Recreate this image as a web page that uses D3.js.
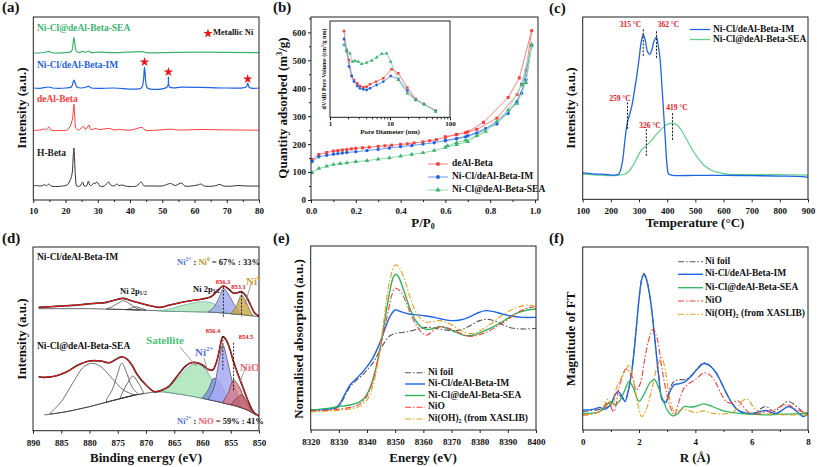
<!DOCTYPE html>
<html><head><meta charset="utf-8">
<script src="https://cdn.jsdelivr.net/npm/d3@7"></script>
<style>
body{margin:0;background:#fff;}
svg text{font-family:"Liberation Serif","Times New Roman",serif;font-weight:bold;}
</style></head><body>
<svg id="chart" width="817" height="467"></svg>
<script>
// ---------------- DATA ----------------
// (a) XRD, 2theta vs stacked intensity (a.u.)
const xrdLabels = ["Ni-Cl@deAl-Beta-SEA","Ni-Cl/deAl-Beta-IM","deAl-Beta","H-Beta"];
const xrdH = [[10,14],[11,14.5],[12,14],[13,14.5],[13.5,15.5],[14,14],[14.8,16],[15.5,14],[17,13.5],[19,14],[20.5,15],[21.3,19],[21.7,22],[22.1,28],[22.4,45],[22.6,52],[22.8,42],[23.1,22],[23.5,14],[24.5,14],[25.3,18],[25.8,14],[26.5,14],[27.1,19],[27.5,15],[28,14.5],[28.7,17],[29.2,16],[29.6,18],[30.1,17],[30.6,14],[32,14],[33.4,18],[34,15],[35,14],[36,16],[36.5,14.5],[37.6,15],[38.5,14],[40,13.5],[42,14],[43.5,18],[44.2,14.5],[46,14],[48,14],[50,14],[52.6,16.5],[54,14.5],[56,17],[57,14],[59,14],[61,15],[62,16],[63,14],[66,14],[68,15.5],[69,14],[72,14],[73.5,14.5],[76,14],[80,14]];
const xrdDeAl = [[10,69.5],[12,70],[13.5,71],[14,70],[14.8,73],[15.5,70],[18,69.5],[20.5,70],[21.3,73],[21.8,77],[22.2,82],[22.6,96],[22.9,82],[23.2,72],[24,70],[25.6,73.5],[26.2,70.5],[27.3,75],[27.8,70.5],[29.5,71.5],[30.2,70.5],[33.7,71.5],[35,70],[36.5,70.5],[40,69.8],[43.9,72.5],[44.6,70],[48,69.8],[52.8,70.8],[55,70],[62,70.5],[68,70.2],[80,69.8]];
const xrdIM = [[10,112],[12,111.7],[14.8,113],[16,112],[20,112],[21.8,113],[22.3,117],[22.6,120],[23,117],[23.5,113],[25,112],[27.3,113.5],[28,112],[35,112],[43.5,112],[44.1,118],[44.5,133],[44.9,118],[45.4,112],[51.5,113],[51.9,123],[52.3,113],[56,112.8],[62,112.6],[70,112],[76,113],[76.5,117],[77,112.5],[80,112]];
const xrdSEA = [[10,147],[13.5,147.5],[14.8,148.7],[15.5,147.5],[20,147.3],[21.8,148.5],[22.3,155],[22.6,162.7],[22.9,156],[23.3,149],[24,147.5],[25.6,148.6],[26,147.6],[27.3,149],[27.8,147.5],[30,147.8],[35,147.3],[44,148.3],[45,147.3],[53,147.6],[62,147.9],[80,147.3]];
const niStars = [[44.5,138],[51.9,128],[76.5,121]];

// (b) N2 isotherms, P/P0 vs quantity adsorbed (m3/g): adsorption then desorption
const isoDeAl = [[0.005,145],[0.035,163],[0.07,170],[0.1,175],[0.12,177],[0.14,179],[0.16,181],[0.18,183],[0.2,185],[0.23,187],[0.26,189],[0.3,192],[0.33,194],[0.36,196],[0.4,199],[0.43,201],[0.46,204],[0.5,208],[0.53,212],[0.56,216],[0.6,225],[0.65,234],[0.7,244],[0.77,278],[0.88,367],[0.93,437],[0.985,606],[0.96,465],[0.94,414],[0.92,377],[0.83,293],[0.74,253],[0.69,241],[0.65,235],[0.6,226]];
const isoIM = [[0.005,138],[0.035,155],[0.07,160],[0.1,164],[0.12,166],[0.14,168],[0.16,170],[0.2,173],[0.25,177],[0.3,181],[0.35,186],[0.4,191],[0.45,195],[0.5,200],[0.55,205],[0.6,213],[0.65,220],[0.7,230],[0.78,256],[0.88,310],[0.94,382],[0.985,552],[0.96,430],[0.92,352],[0.83,272],[0.74,239],[0.69,226],[0.65,219],[0.6,212]];
const isoSEA = [[0.005,98],[0.035,113],[0.07,121],[0.1,127],[0.13,130],[0.16,133],[0.2,137],[0.25,141],[0.3,146],[0.35,151],[0.4,157],[0.45,163],[0.5,169],[0.55,177],[0.6,188],[0.65,198],[0.7,209],[0.78,245],[0.88,322],[0.94,412],[0.985,557],[0.96,420],[0.92,346],[0.83,280],[0.74,230],[0.69,214],[0.65,205],[0.61,194]];
const isoLabels = ["deAl-Beta","Ni-Cl/deAl-Beta-IM","Ni-Cl@deAl-Beta-SEA"];
// (b) inset pore size distribution, pore diameter (nm) vs dV/dD (a.u.)
const psdDeAl = [[1.71,86.3],[1.9,65.7],[2.07,57.3],[2.3,41.3],[2.51,37.3],[2.85,34],[3.16,31.3],[3.59,30],[4.08,30.5],[4.64,33],[5.84,35.7],[7.74,39],[10.64,48],[13.77,44],[19.45,29.7],[26.77,18.3],[36.87,13.3],[57.7,6.7]];
const psdIM = [[1.71,78.3],[1.9,67.3],[2.07,50.7],[2.3,41.3],[2.51,35.7],[2.85,31.3],[3.16,29],[3.59,28],[4.08,27.3],[4.64,29],[5.99,32.3],[7.74,35.7],[10.26,41.3],[13.77,38.3],[19.45,26.7],[26.77,17.3],[36.87,13],[57.7,6.3]];
const psdSEA = [[1.71,72.3],[1.9,66.7],[2.15,64],[2.36,55.7],[2.61,56.3],[2.96,55.7],[3.37,53.3],[4.08,54.7],[4.95,56.7],[5.99,60],[7.27,63.3],[8.8,64],[10.26,55.7],[13.77,37.3],[19.45,24],[26.77,17.3],[36.87,13.3],[57.7,5.7]];

// (c) H2-TPR, temperature (C) vs intensity (a.u.)
const tprIM = [[100,26.7],[120,26],[150,25.3],[180,25],[200,24.3],[215,24.3],[228,25.3],[240,36],[250,59.3],[258,76],[266,84.3],[274,92.7],[288,116],[299,137.7],[308,157.7],[315,165],[322,159.3],[330,147.7],[338,145],[346,150],[353,158],[362,162],[368,154.3],[375,139.3],[383,106],[392,66],[400,32.7],[405,25.3],[420,24],[500,24],[600,24],[700,23.7],[800,23.3],[880,22.7],[900,22]];
const tprSEA = [[100,25.3],[150,24.3],[200,23.7],[230,24.3],[250,25.3],[265,28.3],[280,34.3],[295,42.7],[310,50],[326,53.7],[345,59.3],[365,66],[385,71.7],[400,75],[419,76],[435,74.3],[450,69.3],[470,59.3],[490,49.3],[510,41],[530,34.3],[555,29.3],[580,27],[610,25.3],[700,24.7],[800,24.7],[900,24.3]];
const tprPeaks = [{t:315,top:170,bot:142},{t:362,top:168,bot:140},{t:259,top:97,bot:70},{t:419,top:86,bot:58},{t:326,top:70,bot:42}];
const tprPeakLabels = ["315 °C","362 °C","259 °C","419 °C","326 °C"];

// (d) XPS Ni 2p, binding energy (eV) vs intensity (a.u.)
const xpsIMfit = [[889,368],[887,370],[885,372],[883,374],[881,377],[879,380],[877,383],[875.5,390],[874,395],[873,390],[872,385],[870.5,378],[869,372],[867.5,368],[866,374],[864,382],[862,388],[860,393],[858.5,400],[857.5,415],[856.3,432],[855.2,420],[854.5,410],[853.8,412],[853.1,415],[852.3,402],[851.5,375],[850.8,352],[850,342]];
const xpsIMbg = [[889,364],[880,364],[875,362],[871,360],[868,358],[866,356],[862,355],[859,354],[857,352],[855,349],[853,346],[851,342],[850,340]];
const xpsIMc1 = [[877,363],[876,370],[875,380],[874,388],[873,380],[872,368],[871,361]];
const xpsIMc2 = [[873.5,361],[872.5,366],[871.8,370],[871,366],[870,360]];
const xpsIMsat = [[868,358],[866,362],[864,372],[862,380],[860,385],[858.5,382],[857,370],[855.5,355],[854.5,349]];
const xpsIMni2 = [[859,354],[858,368],[857,400],[856.3,425],[855.5,410],[854.5,380],[853.5,355],[853,347]];
const xpsIMni0 = [[855,349],[854,372],[853.1,405],[852.3,385],[851.5,355],[851,343]];
const xpsSEAfit = [[889,160],[888,158],[886,162],[884,175],[882,195],[880,207],[878,207],[876.5,202],[875.5,210],[874.3,220],[873.3,212],[872.5,195],[871.5,165],[870,135],[868.5,115],[867.5,118],[866,130],[865,150],[864,172],[863,192],[862,202],[861,202],[860,195],[859,182],[858.2,180],[857.5,205],[857,240],[856.4,280],[855.8,270],[855.2,245],[854.6,210],[854,180],[853,135],[852,90],[851,55],[850,42]];
const xpsSEAbg = [[888,45],[884,55],[880,70],[876,88],[872,105],[869,113],[867,115],[865,110],[862,102],[860,95],[858,88],[856,80],[854,72],[852,60],[850.5,44]];
const xpsSEAc0 = [[887,50],[885,85],[883,140],[881,190],[879.5,200],[878,190],[876,155],[874,120],[872,105]];
const xpsSEAc1 = [[877,92],[876,120],[875,170],[874.3,200],[873.5,175],[872.5,130],[871.5,110]];
const xpsSEAc2 = [[874.5,100],[873.3,140],[872.3,162],[871.5,145],[870.5,115]];
const xpsSEAsat = [[869,113],[867,120],[865,145],[863,180],[862,195],[861,198],[860,190],[859,170],[858,140],[857,110],[856,85]];
const xpsSEAni2 = [[859,92],[858,125],[857.2,195],[856.4,255],[855.6,210],[854.8,150],[854,110],[853.2,75]];
const xpsSEAni2b = [[860,97],[859,120],[858,155],[857,145],[856,110],[855,80]];
const xpsSEAnio = [[856.5,82],[855.5,110],[854.5,150],[853.5,130],[852.5,90],[851.5,58]];
const xpsSEAnio2 = [[855,76],[854,95],[853,105],[852,80],[851.2,55]];

// (e) XANES, energy (eV) vs normalised absorption
const xanesLabels = ["Ni foil","Ni-Cl/deAl-Beta-IM","Ni-Cl@deAl-Beta-SEA","NiO","Ni(OH)2 (from XASLIB)"];
const xanFoil = [[8320,-0.008],[8325,0],[8328,0.008],[8330,0.042],[8332,0.167],[8334,0.292],[8336,0.367],[8338,0.425],[8340,0.5],[8342,0.583],[8344,0.708],[8346,0.833],[8348,0.925],[8350,0.958],[8353,0.971],[8356,0.992],[8359,1.021],[8362,1.033],[8365,1.017],[8368,1.0],[8371,0.992],[8374,1.008],[8377,1.063],[8380,1.117],[8383,1.133],[8386,1.104],[8389,1.054],[8392,1.021],[8396,1.013],[8400,1.021]];
const xanIM = [[8320,0],[8325,0.008],[8328,0.021],[8330,0.063],[8332,0.188],[8334,0.313],[8336,0.383],[8338,0.458],[8340,0.542],[8342,0.646],[8344,0.792],[8346,0.979],[8348,1.158],[8350,1.25],[8352,1.229],[8355,1.2],[8358,1.188],[8361,1.175],[8364,1.158],[8367,1.133],[8370,1.117],[8373,1.125],[8376,1.158],[8379,1.208],[8382,1.242],[8385,1.229],[8388,1.2],[8391,1.175],[8395,1.158],[8400,1.158]];
const xanSEA = [[8320,0],[8326,0.021],[8330,0.042],[8334,0.063],[8337,0.096],[8339,0.146],[8341,0.271],[8343,0.5],[8345,0.833],[8347,1.271],[8349,1.625],[8350,1.696],[8351,1.675],[8353,1.5],[8355,1.292],[8357,1.133],[8359,1.042],[8361,1.008],[8363,1.013],[8366,1.042],[8369,1.013],[8372,0.967],[8375,0.929],[8378,0.938],[8381,0.979],[8385,1.042],[8389,1.125],[8393,1.208],[8397,1.25],[8400,1.263]];
const xanNiO = [[8320,-0.013],[8328,0],[8332,0.021],[8336,0.05],[8339,0.125],[8341,0.25],[8343,0.5],[8345,0.833],[8347,1.146],[8349,1.458],[8350,1.521],[8352,1.479],[8354,1.333],[8356,1.158],[8358,1.033],[8360,0.95],[8361.5,0.938],[8363,0.979],[8366,1.042],[8369,1.021],[8372,0.979],[8375,0.929],[8378,0.925],[8382,0.967],[8386,1.042],[8390,1.133],[8394,1.229],[8398,1.283],[8400,1.292]];
const xanOH = [[8320,-0.025],[8328,-0.008],[8333,0.008],[8337,0.042],[8340,0.125],[8342,0.292],[8344,0.625],[8346,1.125],[8348,1.604],[8350,1.813],[8351,1.8],[8353,1.667],[8355,1.438],[8357,1.25],[8359,1.146],[8361,1.096],[8363,1.104],[8366,1.117],[8369,1.083],[8372,1.021],[8375,0.967],[8378,0.958],[8381,1.008],[8385,1.104],[8389,1.208],[8393,1.279],[8397,1.313],[8400,1.292]];

// (f) FT-EXAFS, R (A) vs magnitude of FT
const ftIM = [[0,0.6],[0.2,0.6],[0.4,0.62],[0.6,0.67],[0.8,0.62],[1.0,0.78],[1.15,1.05],[1.25,1.15],[1.4,1.0],[1.5,0.85],[1.6,1.1],[1.75,1.8],[1.9,3.0],[2.0,3.9],[2.1,4.5],[2.17,4.63],[2.25,4.52],[2.4,3.9],[2.55,2.8],[2.7,1.6],[2.82,0.9],[2.95,0.82],[3.1,1.15],[3.25,1.35],[3.45,1.38],[3.65,1.45],[3.85,1.6],[4.05,1.8],[4.3,1.98],[4.5,1.92],[4.7,1.75],[4.9,1.45],[5.1,1.1],[5.3,0.8],[5.5,0.6],[5.8,0.5],[6.1,0.5],[6.3,0.55],[6.5,0.58],[6.7,0.52],[6.9,0.5],[7.1,0.6],[7.3,0.7],[7.5,0.62],[7.7,0.48],[7.85,0.4],[8.0,0.5]];
const ftFoil = [[0,0.55],[0.5,0.6],[0.8,0.65],[1.0,0.75],[1.2,1.1],[1.4,0.95],[1.5,0.85],[1.6,1.1],[1.75,1.8],[1.9,3.0],[2.0,3.9],[2.1,4.52],[2.17,4.67],[2.25,4.55],[2.4,3.9],[2.55,2.8],[2.7,1.6],[2.82,0.92],[2.95,0.85],[3.1,1.25],[3.25,1.45],[3.45,1.5],[3.65,1.5],[3.85,1.62],[4.05,1.8],[4.3,2.0],[4.5,1.93],[4.7,1.75],[4.9,1.45],[5.1,1.1],[5.3,0.8],[5.5,0.6],[5.8,0.5],[6.1,0.5],[6.3,0.62],[6.5,0.7],[6.8,0.55],[7.0,0.68],[7.3,0.85],[7.6,0.7],[7.85,0.52],[8.0,0.5]];
const ftSEA = [[0,0.5],[0.3,0.5],[0.6,0.55],[0.8,0.7],[1.0,0.85],[1.15,0.75],[1.3,0.85],[1.5,1.2],[1.65,1.45],[1.8,1.25],[2.0,0.85],[2.2,1.1],[2.4,1.42],[2.55,1.5],[2.7,1.25],[2.85,0.9],[3.0,0.6],[3.2,0.42],[3.4,0.5],[3.6,0.7],[3.8,0.68],[4.0,0.7],[4.3,0.78],[4.6,0.7],[5.0,0.57],[5.5,0.5],[6.0,0.47],[6.5,0.45],[7.0,0.47],[7.5,0.48],[8.0,0.5]];
const ftNiO = [[0,0.45],[0.4,0.48],[0.7,0.6],[0.9,0.82],[1.1,0.55],[1.3,1.3],[1.55,1.82],[1.75,1.6],[1.9,1.18],[2.05,1.4],[2.2,2.1],[2.35,2.7],[2.5,3.0],[2.65,2.7],[2.8,1.9],[2.95,1.2],[3.1,0.7],[3.25,0.45],[3.4,0.8],[3.6,1.25],[3.8,1.4],[4.0,1.5],[4.3,1.7],[4.5,1.65],[4.7,1.45],[4.9,1.1],[5.1,0.85],[5.3,0.8],[5.5,0.88],[5.7,0.7],[5.9,0.52],[6.2,0.48],[6.5,0.55],[6.8,0.6],[7.1,0.73],[7.3,0.75],[7.6,0.6],[8.0,0.5]];
const ftOH = [[0,0.45],[0.4,0.48],[0.7,0.65],[0.9,0.92],[1.05,0.7],[1.2,1.25],[1.4,1.6],[1.55,1.8],[1.65,1.95],[1.8,1.5],[1.95,0.8],[2.1,0.4],[2.25,0.6],[2.45,1.2],[2.65,1.9],[2.8,2.15],[2.95,1.7],[3.1,0.9],[3.3,0.5],[3.5,0.62],[3.7,0.6],[4.0,0.52],[4.3,0.57],[4.6,0.5],[5.0,0.48],[5.3,0.52],[5.5,0.65],[5.65,0.85],[5.85,0.92],[6.05,0.7],[6.3,0.5],[6.7,0.48],[7.2,0.45],[8.0,0.45]];

// ---------------- DRAWING ----------------
const svg = d3.select("#chart");
const C = {green:"#3cb371", blue:"#1f63e6", red:"#ff3a3a", black:"#333", gray:"#555", orange:"#e3a21a"};
const FONT = '"Liberation Serif","Times New Roman",serif';
let clipN = 0;

function panel(o){
  const x = (o.log ? d3.scaleLog() : d3.scaleLinear()).domain(o.xd).range([o.x0,o.x1]);
  const y = d3.scaleLinear().domain(o.yd).range([o.y1,o.y0]);
  const g = svg.append("g");
  const id = "clip"+(clipN++);
  svg.append("clipPath").attr("id",id).append("rect").attr("x",o.x0).attr("y",o.y0).attr("width",o.x1-o.x0).attr("height",o.y1-o.y0);
  const plot = g.append("g").attr("clip-path","url(#"+id+")");
  return {x,y,g,plot,o};
}
function axes(p, xt, xminor, xfmt, pad, yt, yminor, yfmt, fs){
  const o = p.o;
  const ax = d3.axisBottom(p.x).tickValues(xt).tickSize(3).tickPadding(pad).tickFormat(xfmt);
  p.g.append("g").attr("transform",`translate(0,${o.y1})`).call(ax);
  if (xminor) p.g.append("g").attr("transform",`translate(0,${o.y1})`).call(d3.axisBottom(p.x).tickValues(xminor).tickSize(2).tickFormat(""));
  if (yt){
    p.g.append("g").attr("transform",`translate(${o.x0},0)`).call(d3.axisLeft(p.y).tickValues(yt).tickSize(3).tickPadding(2).tickFormat(yfmt));
    if (yminor) p.g.append("g").attr("transform",`translate(${o.x0},0)`).call(d3.axisLeft(p.y).tickValues(yminor).tickSize(2).tickFormat(""));
  }
  p.g.selectAll(".domain").remove();
  p.g.selectAll(".tick line").attr("stroke","#222");
  p.g.selectAll(".tick text").attr("font-family",FONT).attr("font-weight","bold").attr("font-size",fs||9).attr("fill","#111");
  p.g.append("rect").attr("x",o.x0).attr("y",o.y0).attr("width",o.x1-o.x0).attr("height",o.y1-o.y0)
    .attr("fill","none").attr("stroke","#222").attr("stroke-width",1);
}
function line(p, data, color, w, dash, curve){
  p.plot.append("path").datum(data).attr("fill","none").attr("stroke",color).attr("stroke-width",w||1.2)
    .attr("stroke-dasharray",dash||null).attr("stroke-linejoin","round")
    .attr("d",d3.line().x(d=>p.x(d[0])).y(d=>p.y(d[1])).curve(curve||d3.curveCatmullRom.alpha(0.5)));
}
function txt(x,y,s,o){
  o=o||{};
  const t = svg.append("text").attr("x",x).attr("y",y).attr("font-size",o.size||9.5).attr("fill",o.fill||"#111")
    .attr("text-anchor",o.anchor||"start").attr("dominant-baseline","middle");
  if (o.rot) t.attr("transform",`rotate(-90,${x},${y})`);
  return t.text(s);
}
function ytitle(x,y,s,size){ return txt(x,y,s,{rot:true,anchor:"middle",size:size||13}); }
function panelLabel(x,y,s){ txt(x,y,s,{size:15}); }
const DASHDOT = "6,2,1.5,2";

// ---- (a) ----
(function(){
  const p = panel({x0:33.3,x1:259,y0:17,y1:200,xd:[10,80],yd:[0,183]});
  axes(p,d3.range(10,81,10),d3.range(15,80,10),d3.format("d"),5);
  line(p,xrdH,C.black,1);
  line(p,xrdDeAl,C.red,1);
  line(p,xrdIM,C.blue,1.2);
  line(p,xrdSEA,C.green,1.2);
  p.plot.selectAll(".star").data(niStars).join("path").attr("fill","#e8141b")
    .attr("transform",d=>`translate(${p.x(d[0])},${p.y(d[1])})`).attr("d",d3.symbol(d3.symbolStar,28));
  svg.append("path").attr("fill","#e8141b").attr("transform","translate(208,33.5)").attr("d",d3.symbol(d3.symbolStar,28));
  txt(213,33.5,"Metallic Ni",{size:8.5});
  const ly=[29,66,100,154], lc=[C.green,C.blue,C.red,"#222"];
  xrdLabels.forEach((s,i)=>txt(37,ly[i],s,{fill:lc[i],size:9.5}));
  ytitle(23,108,"Intensity (a.u.)");
  panelLabel(2,9,"(a)");
})();

// ---- (b) ----
(function(){
  const p = panel({x0:311,x1:538,y0:17,y1:200,xd:[0,1.0134],yd:[0,655]});
  axes(p,d3.range(0,1.01,0.2),d3.range(0.1,1.0,0.2),d3.format(".1f"),5,d3.range(0,601,100),d3.range(50,651,100),d3.format("d"));
  const sets=[[isoDeAl,C.red,d3.symbolSquare,"#ff8080"],[isoIM,C.blue,d3.symbolCircle,"#6b9cf0"],[isoSEA,"#3cb371",d3.symbolTriangle,"#8fd9aa"]];
  sets.forEach(([d,c,sym,lc])=>{
    line(p,d,lc,1,null,d3.curveLinear);
    p.plot.append("g").selectAll("path").data(d).join("path").attr("fill",c)
      .attr("transform",v=>`translate(${p.x(v[0])},${p.y(v[1])})`).attr("d",d3.symbol(sym,9));
  });
  const ly=[164,177,190];
  sets.forEach(([d,c,sym,lc],i)=>{
    svg.append("line").attr("x1",428).attr("x2",448).attr("y1",ly[i]).attr("y2",ly[i]).attr("stroke",lc).attr("stroke-width",1);
    svg.append("path").attr("fill",c).attr("transform",`translate(438,${ly[i]})`).attr("d",d3.symbol(sym,12));
    txt(452,ly[i],isoLabels[i],{size:9.5});
  });
  const t = ytitle(284,108,"Quantity adsorbed (m",13); t.append("tspan").text("3").attr("font-size",8).attr("dy",-4);
  t.append("tspan").text("/g)").attr("dy",4);
  const tx = txt(423,224,"P/P",{size:13,anchor:"middle"}); tx.append("tspan").text("0").attr("font-size",8).attr("dy",3);
  panelLabel(273,9,"(b)");
  // inset
  const q = panel({x0:330,x1:450,y0:21,y1:117.3,xd:[1,100],yd:[0,96.3],log:true});
  axes(q,[1,10,100],d3.range(2,10).concat(d3.range(20,100,10)),d3.format("d"),1,null,null,null,7);
  [[psdDeAl,C.red,d3.symbolSquare,"#ff8080"],[psdIM,C.blue,d3.symbolCircle,"#6b9cf0"],[psdSEA,"#3cb371",d3.symbolTriangle,"#8fd9aa"]].forEach(([d,c,sym,lc])=>{
    line(q,d,lc,1,null,d3.curveLinear);
    q.plot.append("g").selectAll("path").data(d).join("path").attr("fill",c)
      .attr("transform",v=>`translate(${q.x(v[0])},${q.y(v[1])})`).attr("d",d3.symbol(sym,6));
  });
  txt(390,132.5,"Pore Diameter (nm)",{size:7,anchor:"middle"});
  const it = txt(325,69,"dV/dD Pore Volume (cm",{size:6,anchor:"middle",rot:true});
  it.append("tspan").text("3").attr("font-size",4).attr("dy",-2);
  it.append("tspan").text("/g nm)").attr("dy",2);
})();

// ---- (c) ----
(function(){
  const p = panel({x0:582.7,x1:808,y0:17,y1:199.33,xd:[100,900],yd:[0,182.33]});
  axes(p,d3.range(100,901,100),null,d3.format("d"),5);
  line(p,tprSEA,"#5fcf8a",1.2);
  line(p,tprIM,C.blue,1.3);
  tprPeaks.forEach(d=>{
    p.plot.append("line").attr("x1",p.x(d.t)).attr("x2",p.x(d.t)).attr("y1",p.y(d.top)).attr("y2",p.y(d.bot))
      .attr("stroke","#111").attr("stroke-width",1).attr("stroke-dasharray","2,1.5");
  });
  const lab=[[630.5,25],[668.5,25],[620,99],[677,108.5],[650,126]];
  lab.forEach((l,i)=>txt(l[0],l[1],tprPeakLabels[i],{size:7.5,fill:"#e8141b",anchor:"middle"}));
  [[C.blue,"Ni-Cl/deAl-Beta-IM",29.5],["#5fcf8a","Ni-Cl@deAl-Beta-SEA",39.5]].forEach(([c,s,yy])=>{
    svg.append("line").attr("x1",690).attr("x2",710).attr("y1",yy).attr("y2",yy).attr("stroke",c).attr("stroke-width",1.3);
    txt(713,yy,s,{size:9.5});
  });
  ytitle(572,108,"Intensity (a.u.)");
  txt(695,224,"Temperature (°C)",{size:13,anchor:"middle"});
  panelLabel(549,10,"(c)");
})();

// ---- (d) ----
(function(){
  const p = panel({x0:33,x1:259,y0:247,y1:430.7,xd:[890,850],yd:[-2,549]});
  axes(p,d3.range(890,849,-5),null,d3.format("d"),6);
  function bgAt(bg,e){
    for(let i=0;i<bg.length-1;i++){ const a=bg[i],b=bg[i+1]; if((e<=a[0]&&e>=b[0])) return a[1]+(b[1]-a[1])*(a[0]-e)/(a[0]-b[0]); }
    return e>bg[0][0]?bg[0][1]:bg[bg.length-1][1];
  }
  function comp(d,bg,fill,stroke,op){
    p.plot.append("path").datum(d).attr("fill",fill).attr("fill-opacity",op).attr("stroke",stroke).attr("stroke-width",0.7)
      .attr("d",d3.area().x(v=>p.x(v[0])).y0(v=>p.y(bgAt(bg,v[0]))).y1(v=>p.y(v[1])).curve(d3.curveCatmullRom));
  }
  line(p,xpsIMbg,"#444",0.8,null,d3.curveLinear);
  comp(xpsIMc1,xpsIMbg,"none","#333",0);
  comp(xpsIMc2,xpsIMbg,"none","#333",0);
  comp(xpsIMsat,xpsIMbg,"#9fe0b0","#6a9",0.7);
  comp(xpsIMni2,xpsIMbg,"#9ea6ee","#556",0.8);
  comp(xpsIMni0,xpsIMbg,"#c9a642","#665",0.8);
  line(p,xpsIMfit,"#111",1.6);
  line(p,xpsIMfit,"#ff1a1a",1);
  line(p,xpsSEAbg,"#444",0.8,null,d3.curveLinear);
  comp(xpsSEAc0,xpsSEAbg,"none","#333",0);
  comp(xpsSEAc1,xpsSEAbg,"none","#333",0);
  comp(xpsSEAc2,xpsSEAbg,"none","#333",0);
  comp(xpsSEAsat,xpsSEAbg,"#9fe0b0","#6a9",0.75);
  comp(xpsSEAni2b,xpsSEAbg,"#7b8fe0","#445",0.8);
  comp(xpsSEAni2,xpsSEAbg,"#a7a9f5","#445",0.85);
  comp(xpsSEAnio,xpsSEAbg,"#d9767e","#633",0.75);
  comp(xpsSEAnio2,xpsSEAbg,"#b45a64","#633",0.6);
  line(p,xpsSEAfit,"#111",1.6);
  line(p,xpsSEAfit,"#ff1a1a",1);
  [[856.3,430,335],[853.1,415,340],[856.4,282,180],[854.5,262,115]].forEach(d=>{
    p.plot.append("line").attr("x1",p.x(d[0])).attr("x2",p.x(d[0])).attr("y1",p.y(d[1])).attr("y2",p.y(d[2]))
      .attr("stroke","#111").attr("stroke-dasharray","2,1.5").attr("stroke-width",0.9);
  });
  [[[180,347],[196,366]],[[204,358],[208,372]],[[246,366],[240,382]],[[251,284],[245,304]]].forEach(s=>{
    svg.append("line").attr("x1",s[0][0]).attr("y1",s[0][1]).attr("x2",s[1][0]).attr("y2",s[1][1]).attr("stroke","#888").attr("stroke-width",0.8);
  });
  txt(37,258,"Ni-Cl/deAl-Beta-IM",{size:9.5});
  txt(37,347,"Ni-Cl@deAl-Beta-SEA",{size:9.5});
  let t = txt(177,263,"Ni",{size:8.5,fill:"#5a6fd6"}); t.append("tspan").text("2+").attr("font-size",5.5).attr("dy",-3);
  t.append("tspan").text(" : ").attr("fill","#111").attr("font-size",8.5).attr("dy",3);
  t.append("tspan").text("Ni").attr("fill","#b8962e"); t.append("tspan").text("0").attr("font-size",5.5).attr("dy",-3).attr("fill","#b8962e");
  t.append("tspan").text(" = 67% : 33%").attr("font-size",8.5).attr("dy",3).attr("fill","#111");
  t = txt(177,422,"Ni",{size:8.5,fill:"#5a6fd6"}); t.append("tspan").text("2+").attr("font-size",5.5).attr("dy",-3);
  t.append("tspan").text(" : ").attr("fill","#111").attr("font-size",8.5).attr("dy",3);
  t.append("tspan").text("NiO").attr("fill","#ee5a6a");
  t.append("tspan").text(" = 59% : 41%").attr("fill","#111");
  t = txt(120,292,"Ni 2p",{size:8.5}); t.append("tspan").text("1/2").attr("font-size",5.5).attr("dy",2);
  t = txt(193,290,"Ni 2p",{size:8.5}); t.append("tspan").text("3/2").attr("font-size",5.5).attr("dy",2);
  txt(223,283,"856.3",{size:6.5,fill:"#e8141b",anchor:"middle"});
  txt(238.5,288,"853.1",{size:6.5,fill:"#e8141b",anchor:"middle"});
  t = txt(246,282,"Ni",{size:11,fill:"#c9a030"}); t.append("tspan").text("0").attr("font-size",7).attr("dy",-4);
  txt(213,332,"856.4",{size:6.5,fill:"#e8141b",anchor:"middle"});
  txt(246,338,"854.5",{size:6.5,fill:"#e8141b",anchor:"middle"});
  txt(165,341,"Satellite",{size:11,fill:"#4cc47a",anchor:"middle"});
  t = txt(195,353,"Ni",{size:11,fill:"#5a6fd6"}); t.append("tspan").text("2+").attr("font-size",7).attr("dy",-4);
  txt(240,368,"NiO",{size:11,fill:"#ee6a78"});
  ytitle(23,339,"Intensity (a.u.)");
  txt(146,459,"Binding energy (eV)",{size:13,anchor:"middle"});
  panelLabel(2,240,"(d)");
})();

// ---- (e) ----
(function(){
  const p = panel({x0:310.7,x1:536,y0:246,y1:430,xd:[8320,8400],yd:[-0.25,2.05]});
  axes(p,d3.range(8320,8401,10),null,d3.format("d"),6);
  const sets=[[xanFoil,C.gray,DASHDOT,1.1],[xanIM,C.blue,null,1.4],[xanSEA,"#2fb35e",null,1.4],[xanNiO,"#ff3b3b",DASHDOT,1.1],[xanOH,C.orange,DASHDOT,1.1]];
  sets.forEach(s=>line(p,s[0],s[1],s[3],s[2]));
  const ly=[372.7,384,395.5,407.3,419];
  sets.forEach((s,i)=>{
    svg.append("line").attr("x1",405).attr("x2",425).attr("y1",ly[i]).attr("y2",ly[i]).attr("stroke",s[1]).attr("stroke-width",s[3]).attr("stroke-dasharray",s[2]);
    const t = txt(428,ly[i],i===4?"Ni(OH)":xanesLabels[i],{size:9.5});
    if(i===4){ t.append("tspan").text("2").attr("font-size",6).attr("dy",3); t.append("tspan").text(" (from XASLIB)").attr("dy",-3); }
  });
  ytitle(300,339,"Normalised absorption (a.u.)");
  txt(423,459,"Energy (eV)",{size:13,anchor:"middle"});
  panelLabel(273,240,"(e)");
})();

// ---- (f) ----
(function(){
  const p = panel({x0:582.7,x1:808,y0:247,y1:430,xd:[0,8],yd:[0,5.45]});
  axes(p,d3.range(0,8.1,2),d3.range(1,8,2),d3.format("d"),6);
  const sets=[[ftFoil,C.gray,DASHDOT,1.1],[ftIM,C.blue,null,1.4],[ftSEA,"#2fb35e",null,1.3],[ftNiO,"#ff3b3b",DASHDOT,1.1],[ftOH,C.orange,DASHDOT,1.1]];
  sets.forEach(s=>line(p,s[0],s[1],s[3],s[2]));
  const ly=[261.7,274.3,287.7,301,314.3];
  sets.forEach((s,i)=>{
    svg.append("line").attr("x1",678).attr("x2",703).attr("y1",ly[i]).attr("y2",ly[i]).attr("stroke",s[1]).attr("stroke-width",s[3]).attr("stroke-dasharray",s[2]);
    const t = txt(705,ly[i],i===4?"Ni(OH)":xanesLabels[i],{size:9.5});
    if(i===4){ t.append("tspan").text("2").attr("font-size",6).attr("dy",3); t.append("tspan").text(" (from XASLIB)").attr("dy",-3); }
  });
  ytitle(572,339,"Magnitude of FT");
  txt(695,459,"R (Å)",{size:13,anchor:"middle"});
  panelLabel(549,240,"(f)");
})();
</script>
</body></html>
